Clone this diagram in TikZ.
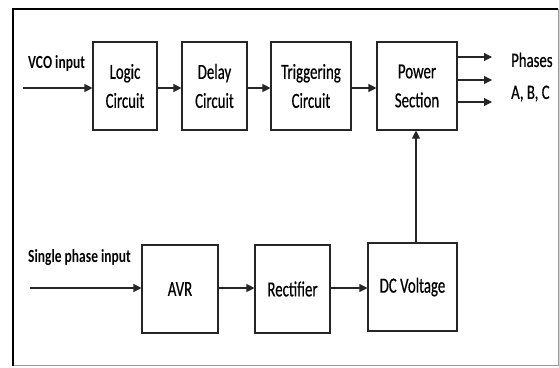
\documentclass[tikz,border=0pt]{standalone}
\usepackage{fontspec}
\setmainfont{Carlito}
\newfontfamily\boxfont{Carlito}[FakeStretch=0.69,FakeBold=0.5]
\newfontfamily\lblfont{Carlito Bold}[FakeStretch=0.73]
\newfontfamily\phfont{Carlito}[FakeStretch=0.72,FakeBold=0.5]
\usetikzlibrary{arrows.meta}
\begin{document}
\begin{tikzpicture}[x=1pt,y=-1pt,
  blk/.style={draw=black!85,line width=1.1pt,minimum width=#1,minimum height=88pt,inner sep=0pt,align=center,
    font=\boxfont\fontsize{21.5}{29}\selectfont},
  arr/.style={draw=black!85,line width=1.1pt,-{Triangle[length=8pt,width=8pt]}},
  lbl/.style={font=\lblfont\fontsize{18.5}{22}\selectfont,inner sep=0pt},
  ]
\useasboundingbox (0,0) rectangle (559,367);
\fill[white] (0,0) rectangle (559,367);
% frame
\draw[black!40,line width=1pt] (13,365) -- (558,365) -- (558,9);
\draw[black,line width=2pt] (13,366) -- (13,9) -- (558,9);
% top row
\node[blk=64pt] (logic) at (125,86) {Logic\\Circuit};
\node[blk=65pt] (delay) at (214.5,86) {Delay\\Circuit};
\node[blk=80pt] (trig) at (311,86) {Triggering\\Circuit};
\node[blk=80pt] (power) at (417,86) {Power\\Section};
% bottom row
\node[blk=76pt] (avr) at (180,289) {AVR};
\node[blk=75pt] (rect) at (292.5,289) {Rectifier};
\node[blk=89pt] (dc) at (412.5,287) {DC Voltage};
% inputs
\coordinate (vcoin) at (23,88);
\coordinate (spin) at (30,288);
\node[lbl,anchor=base west] (vcol) at (28,68) {VCO input};
\node[lbl,anchor=base west] (spl) at (28,262) {Single phase input};
\draw[arr] (vcoin) -- (vcoin -| logic.west);
\draw[arr] (spin) -- (spin -| avr.west);
% chain arrows
\draw[arr] (logic.east |- 0,88) -- (delay.west |- 0,88);
\draw[arr] (delay.east |- 0,88) -- (trig.west |- 0,88);
\draw[arr] (trig.east |- 0,88) -- (power.west |- 0,88);
\draw[arr] (avr.east |- 0,288) -- (rect.west |- 0,288);
\draw[arr] (rect.east |- 0,288) -- (dc.west |- 0,288);
\draw[arr] (dc.north -| 416,0) -- (power.south -| 416,0);
% outputs
\coordinate (oa) at (492,57);
\coordinate (ob) at (492,80);
\coordinate (oc) at (492,102);
\draw[arr] (power.east |- oa) -- (oa);
\draw[arr] (power.east |- ob) -- (ob);
\draw[arr] (power.east |- oc) -- (oc);
\node[font=\phfont\fontsize{20.5}{32}\selectfont,align=left,anchor=north west,inner sep=0pt] (ph) at (511,52.5) {Phases\\A, B, C};
\end{tikzpicture}
\end{document}
